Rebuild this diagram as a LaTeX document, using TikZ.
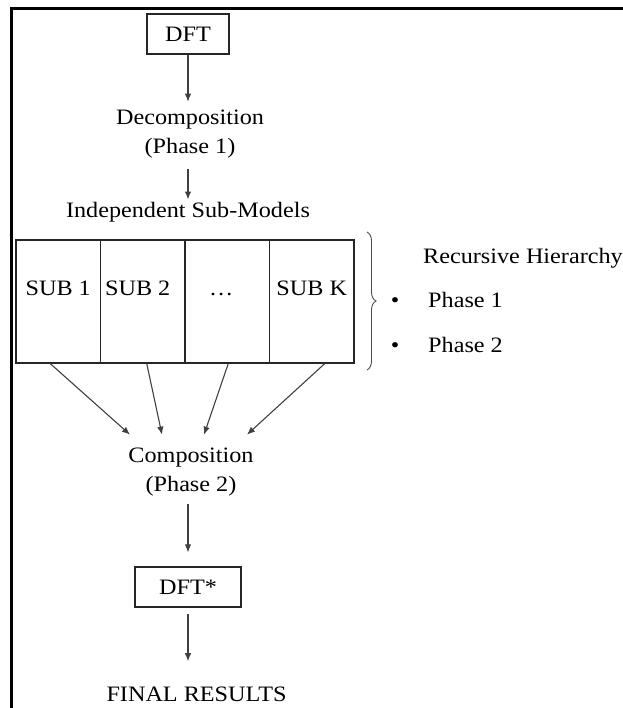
\documentclass[tikz,border=0pt]{standalone}
\usepackage{fontspec}
\setmainfont{Liberation Serif}[FakeStretch=1.1]
\usetikzlibrary{arrows.meta,decorations.pathreplacing}

\begin{document}
\begin{tikzpicture}[x=1pt,y=-1pt]
\tikzset{every node/.style={inner sep=0pt,align=center}}
\tikzset{block/.style={draw=black!85,line width=1.2pt,minimum height=40pt}}
\tikzset{cell/.style={draw=black!85,line width=1.2pt,minimum width=84.5pt,minimum height=123pt,text height=15pt,text depth=28pt}}
\tikzset{flow/.style={draw=black!75,line width=1.1pt,-{Latex[length=8pt,width=6.5pt]}}}

\fontsize{22}{29}\selectfont

\useasboundingbox (0,0) rectangle (622,708);
\draw[line width=3pt] (11.3,712) -- (11.3,8.7) -- (626,8.7);

\node[block,minimum width=82pt] (dft) at (188,34) {DFT};
\node (decomp) at (190,134) {Decomposition\\(Phase 1)};
\node[anchor=base] (indep) at (188,218) {Independent Sub-Models};

\node[cell] (sub1) at (58.25,301.5) {SUB 1};
\node[cell] (sub2) at (142.75,301.5) {SUB 2\hspace*{10pt}};
\node[cell] (subdots) at (227.25,301.5) {\dots\hspace*{12pt}};
\node[cell] (subk) at (311.75,301.5) {SUB K};

\node (comp) at (191,472) {Composition\\(Phase 2)};
\node[block,minimum width=106pt] (dftstar) at (188,587) {DFT*};
\node[anchor=base] (final) at (196.5,701) {FINAL RESULTS};

% hierarchy note beside the sub-models
\coordinate (brtop) at (367,232);
\coordinate (brbot) at (367,370);
\draw[decorate,decoration={brace,amplitude=9pt},draw=black!70,line width=0.9pt] (brtop) -- (brbot);
\node[anchor=base west] (hier) at (423,263) {Recursive Hierarchy};
\node[anchor=base] (dot1) at (395,307) {•};
\node[anchor=base west] (ph1) at (428,307) {Phase 1};
\node[anchor=base] (dot2) at (395,352) {•};
\node[anchor=base west] (ph2) at (428,352) {Phase 2};

\draw[flow,shorten >=8pt] (dft.south) -- (dft.south |- decomp.north);
\draw[flow,shorten <=11pt,shorten >=3pt] (dft.south |- decomp.south) -- (dft.south |- indep.north);

\draw[flow] ([xshift=-8pt]sub1.south) -- ([xshift=-61pt,yshift=13pt]comp.north);
\draw[flow] ([xshift=4pt]sub2.south) -- ([xshift=-29pt,yshift=13pt]comp.north);
\draw[flow] ([xshift=1pt]subdots.south) -- ([xshift=13pt,yshift=13pt]comp.north);
\draw[flow] ([xshift=13pt]subk.south) -- ([xshift=56pt,yshift=13pt]comp.north);

\draw[flow,shorten <=8pt,shorten >=14pt] (dftstar.north |- comp.south) -- (dftstar.north);
\draw[flow,shorten <=6pt,shorten >=25pt] (dftstar.south) -- (dftstar.south |- final.north);

\end{tikzpicture}
\end{document}
